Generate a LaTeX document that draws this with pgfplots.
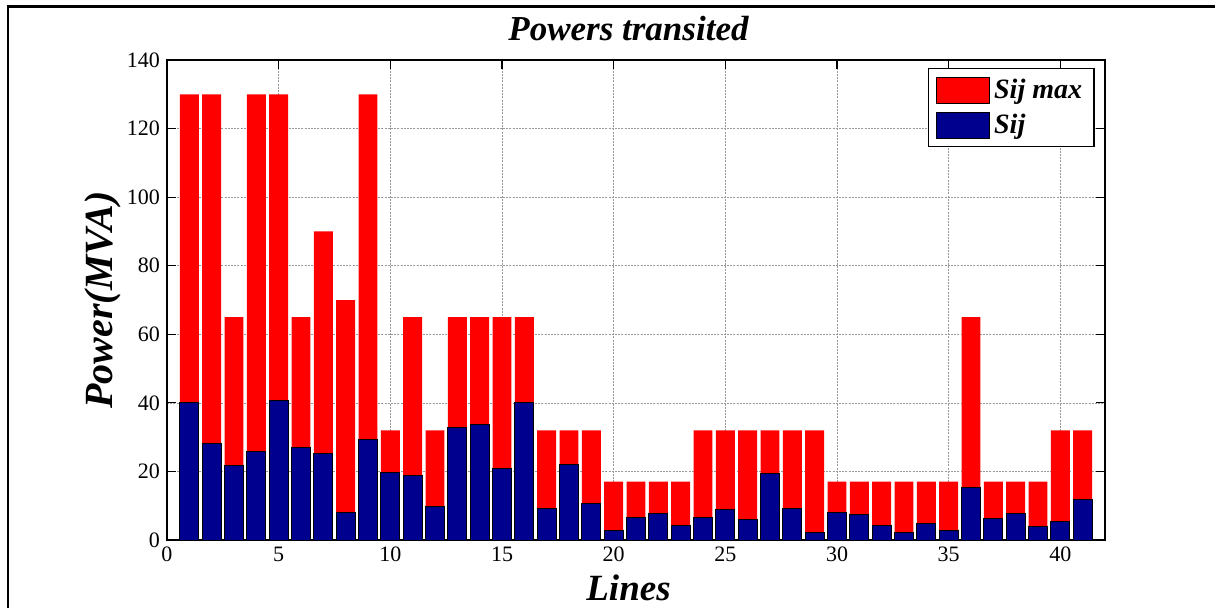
\documentclass[border=0pt]{standalone}
\usepackage{fontspec}
\setmainfont{Liberation Serif}
\usepackage{pgfplots}
\pgfplotsset{compat=1.18}

\definecolor{sijmax}{RGB}{255,0,0}
\definecolor{sij}{RGB}{0,0,143}

\begin{document}
\begin{tikzpicture}
\useasboundingbox (-83.5pt,-33.5pt) rectangle (524pt,270pt);
% figure frame
\draw[line width=1.2pt] (-79.5pt,-40pt) -- (-79.5pt,266.75pt) -- (540pt,266.75pt);
\begin{axis}[
  at={(0,0)}, anchor=south west,
  scale only axis, width=469pt, height=240pt,
  xmin=0, xmax=42, ymin=0, ymax=140,
  xtick={0,5,...,40}, ytick={0,20,...,140},
  tick pos=both, tick align=inside, major tick length=4.5pt,
  axis line style={line width=0.6pt},
  every tick/.style={black, line width=0.6pt},
  grid=major,
  major grid style={black!40, line width=0.3pt, dash pattern=on 1pt off 0.6pt},
  ticklabel style={font=\fontsize{11}{12}\selectfont},
  /pgf/number format/assume math mode=true,
  title={\bfseries\itshape Powers transited},
  every axis title/.style={font=\fontsize{17.5}{20}\selectfont, at={(axis description cs:0.492,1)}, anchor=base, yshift=10pt},
  xlabel={\bfseries\itshape Lines},
  xlabel style={font=\fontsize{18.5}{22}\selectfont, at={(axis description cs:0.492,-0.125)}, anchor=base},
  ylabel={\bfseries\itshape Power(MVA)},
  ylabel style={font=\fontsize{20}{24}\selectfont, at={(axis description cs:-0.0576,0.5)}, anchor=base},
  legend style={at={(rel axis cs:0.989,0.983)}, anchor=north east, draw=black, line width=0.6pt,
    font=\fontsize{14}{15}\selectfont\bfseries\itshape, inner xsep=4pt, inner ysep=3pt, row sep=2.5pt},
  legend cell align=left,
  legend image code/.code={\draw[#1, line width=0.4pt] (0pt,-6.5pt) rectangle (26.5pt,6.5pt);},
]
% rated apparent power of each line
\addplot[ybar, bar width=0.85, bar shift=0pt, fill=sijmax, draw=none] coordinates {
(1,130) (2,130) (3,65) (4,130) (5,130) (6,65) (7,90) (8,70) (9,130) (10,32)
(11,65) (12,32) (13,65) (14,65) (15,65) (16,65) (17,32) (18,32) (19,32) (20,17)
(21,17) (22,17) (23,17) (24,32) (25,32) (26,32) (27,32) (28,32) (29,32) (30,17)
(31,17) (32,17) (33,17) (34,17) (35,17) (36,65) (37,17) (38,17) (39,17) (40,32)
(41,32)};
\addlegendentry{Sij max}
% apparent power transited on each line
\addplot[ybar, bar width=0.85, bar shift=0pt, fill=sij, draw=black, line width=0.5pt] coordinates {
(1,40.2) (2,28.2) (3,21.6) (4,25.9) (5,40.6) (6,26.9) (7,25.1) (8,8.0) (9,29.2) (10,19.7)
(11,18.7) (12,9.9) (13,32.7) (14,33.8) (15,20.9) (16,40.2) (17,9.1) (18,22.1) (19,10.7) (20,2.7)
(21,6.5) (22,7.6) (23,4.2) (24,6.5) (25,8.8) (26,6.1) (27,19.3) (28,9.3) (29,2.3) (30,8.1)
(31,7.3) (32,4.2) (33,2.3) (34,4.7) (35,2.7) (36,15.2) (37,6.4) (38,7.7) (39,3.8) (40,5.3)
(41,11.8)};
\addlegendentry{Sij}
\end{axis}
\end{tikzpicture}
\end{document}
